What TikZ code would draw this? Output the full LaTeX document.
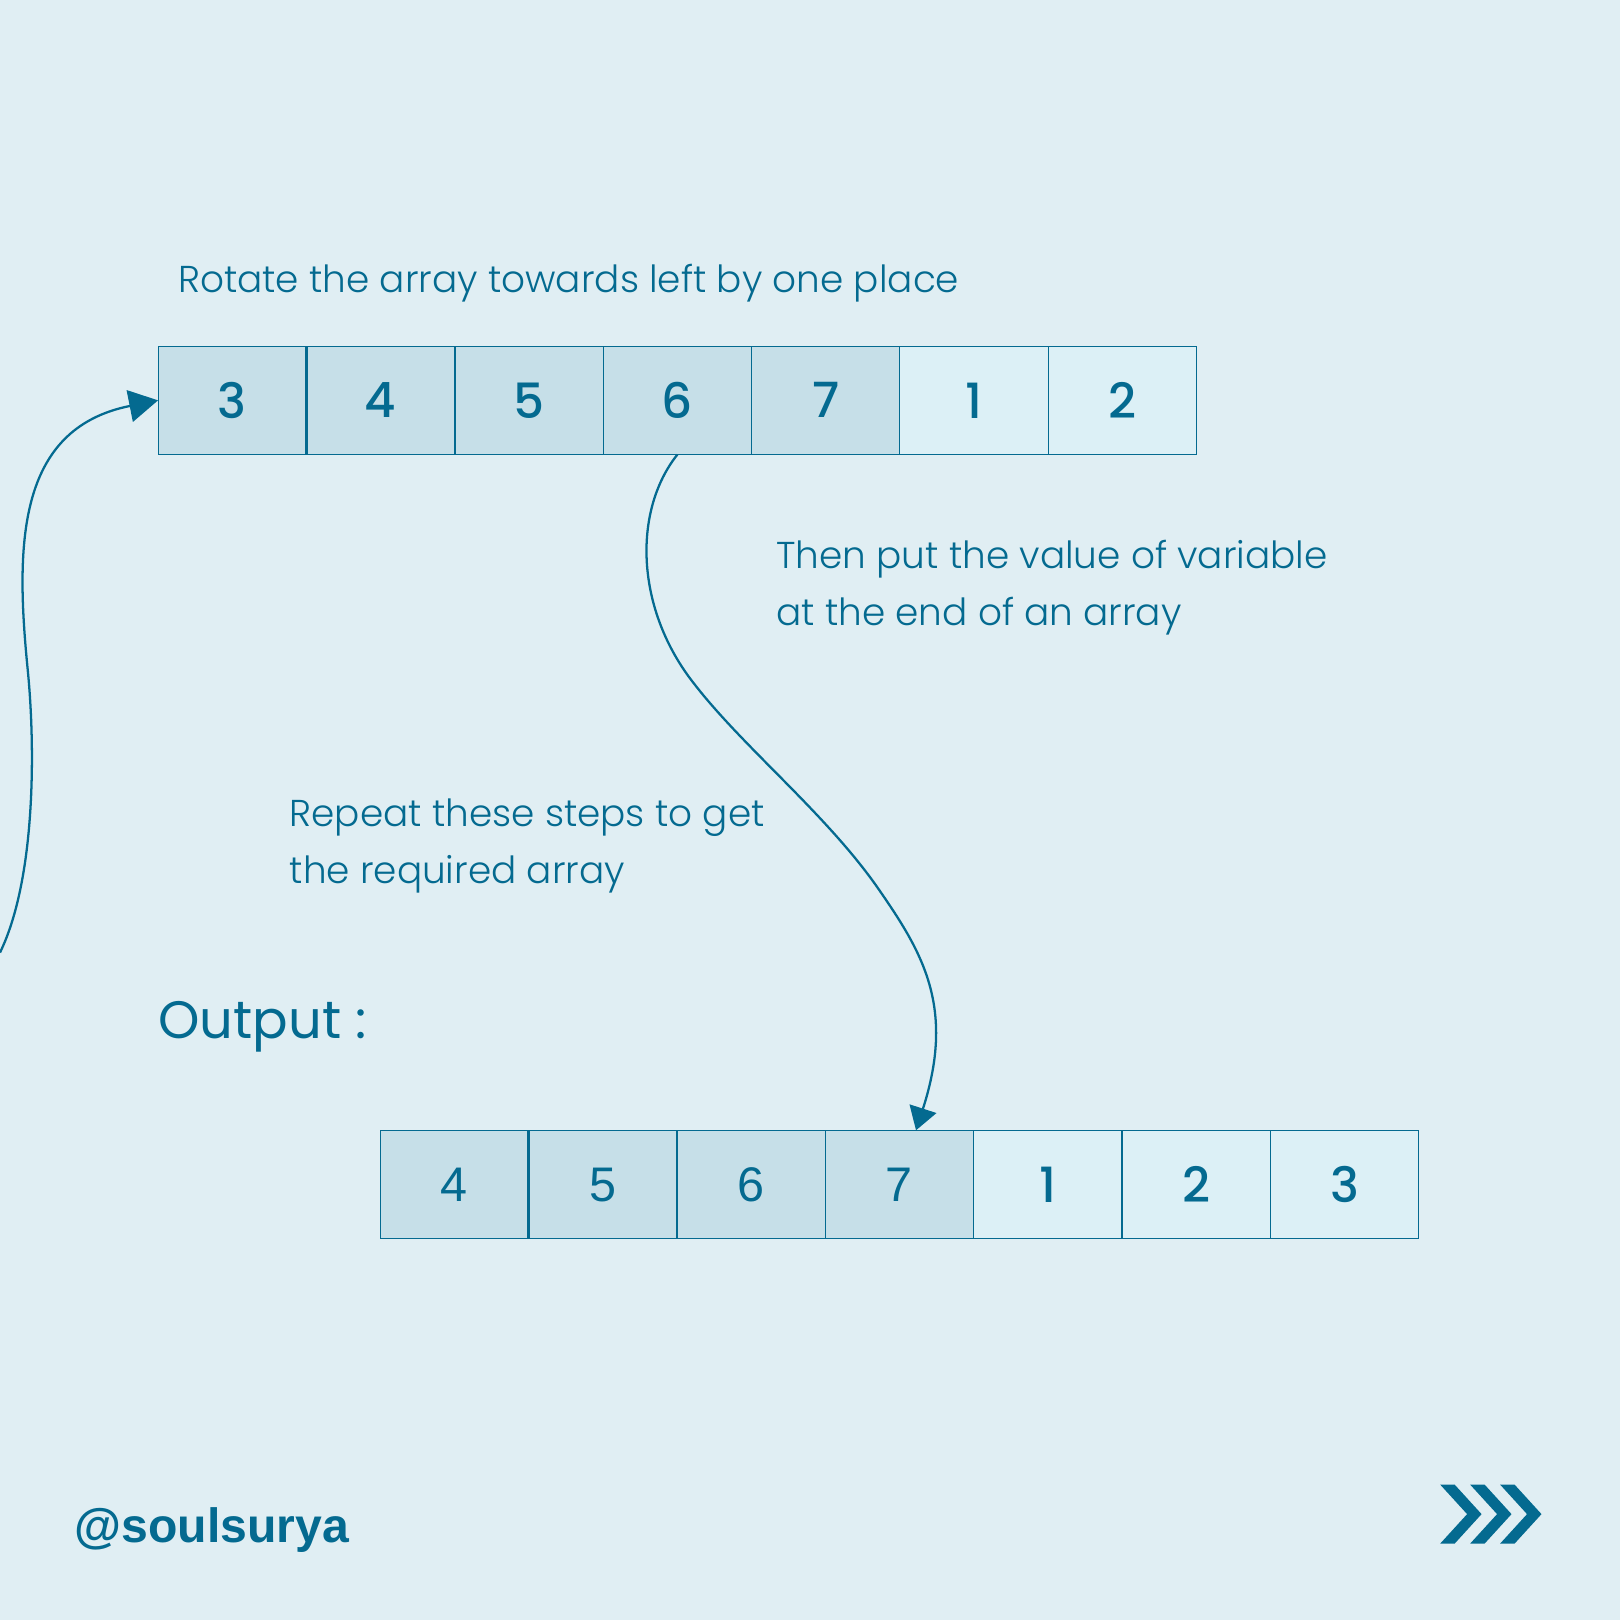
\documentclass[tikz,border=0pt]{standalone}
\usepackage{fontspec}
\setmainfont{Poppins Light}
\newfontfamily\pmed{Poppins Medium}
\newfontfamily\arialfont{Liberation Sans}
\usetikzlibrary{arrows.meta,calc}
\definecolor{bgc}{HTML}{E0EEF3}
\definecolor{teal}{HTML}{046A90}
\definecolor{darkcell}{HTML}{C6DFE8}
\definecolor{lightcell}{HTML}{DCF0F6}
\begin{document}
\begin{tikzpicture}[x=0.5pt,y=-0.5pt,
  cellbase/.style={draw=teal,line width=0.55pt,minimum width=71.8pt,minimum height=52.5pt,
    inner sep=0pt,outer sep=0pt,text=teal,font=\pmed\fontsize{23.5}{28}\selectfont},
  dcell/.style={cellbase,fill=darkcell},
  lcell/.style={cellbase,fill=lightcell},
  acell/.style={dcell,font=\arialfont\fontsize{23.5}{28}\selectfont},
  lbl/.style={text=teal,anchor=base west,inner sep=0pt,font=\fontsize{18.1}{27.5}\selectfont,align=left},
  curve/.style={draw=teal,line width=1.1pt},
  divider/.style={draw=teal,line width=1.1pt}
]
\useasboundingbox (0,0) rectangle (1568,1568);
\fill[bgc] (0,0) rectangle (1568,1568);

% top array
\foreach \i/\v/\s in {1/3/dcell,2/4/dcell,3/5/dcell,4/6/dcell,5/7/dcell,6/1/lcell,7/2/lcell}{
  \node[\s] (t\i) at ({153+71.8+143.6*(\i-1)},387.5) {\v};
}
\draw[divider] (t1.north east) -- (t1.south east);
\draw[divider] (t2.north east) -- (t2.south east);

% bottom array
\foreach \i/\v/\s in {1/4/acell,2/5/acell,3/6/acell,4/7/acell,5/1/lcell,6/2/lcell,7/3/lcell}{
  \node[\s] (b\i) at ({368+71.8+143.6*(\i-1)},1146.5) {\v};
}
\draw[divider] (b1.north east) -- (b1.south east);
\draw[divider] (b2.north east) -- (b2.south east);

% texts
\node[lbl] (txt1) at (172,283) {Rotate the array towards left by one place};
\node[lbl] (txt2) at (751,605) {Then put the value of variable\\at the end of an array};
\node[lbl] (txt3) at (280,855) {Repeat these steps to get\\the required array};
\node[lbl,font=\fontspec{Poppins}\fontsize{25.5}{30}\selectfont] (outp) at (153,1005) {Output :};
\node[lbl,font=\arialfont\bfseries\fontsize{23.3}{28}\selectfont] (handle) at (72,1493) {@soulsurya};

% connectors
\coordinate (s1) at (0,922);
\draw[curve,-{Triangle[length=14pt,width=15.5pt]}] (s1) .. controls (35,850) and (34,722) .. (27,650)
   .. controls (15,530) and (15,415) .. (t1.west);
\coordinate (e2) at ([xshift=8pt]b4.north);
\draw[curve,-{Triangle[length=11pt,width=13.5pt]}] (t4.south) .. controls (612,495) and (615,590) .. (672,662)
   .. controls (720,724) and (800,788) .. (850,860)
   .. controls (893,922) and (925,975) .. (e2);

% chevrons
\foreach \k in {0,1,2}{
  \fill[teal] ({1394+29*\k},1437) -- ({1408+29*\k},1437) -- ({1434+29*\k},1465.5)
    -- ({1408+29*\k},1494) -- ({1394+29*\k},1494) -- ({1420+29*\k},1465.5) -- cycle;
}
\end{tikzpicture}
\end{document}
